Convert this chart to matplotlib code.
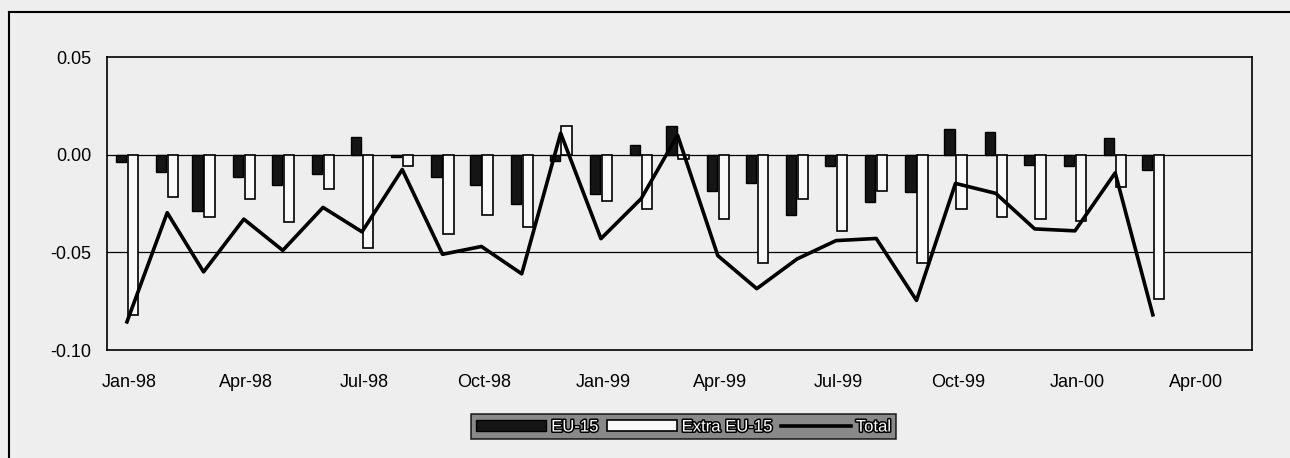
"""EU-15 / Extra EU-15 bars with total line, monthly Jan-98 to Mar-00."""

import matplotlib

matplotlib.use("Agg")
import matplotlib.dates as mdates
import matplotlib.patheffects as path_effects
import matplotlib.pyplot as plt
import numpy as np
import pandas as pd
from matplotlib.lines import Line2D

MONTHS = pd.date_range("1998-01-01", periods=27, freq="MS")
EU_15 = [
    -0.0037, -0.0088, -0.0290, -0.0115, -0.0153, -0.0098, 0.0090, -0.0010,
    -0.0114, -0.0156, -0.0250, -0.0034, -0.0203, 0.0050, 0.0147, -0.0186,
    -0.0147, -0.0308, -0.0056, -0.0242, -0.0190, 0.0132, 0.0115, -0.0051,
    -0.0059, 0.0085, -0.0076,
]
EXTRA_EU_15 = [
    -0.0820, -0.0215, -0.0317, -0.0225, -0.0344, -0.0178, -0.0480, -0.0060,
    -0.0407, -0.0310, -0.0368, 0.0147, -0.0237, -0.0280, -0.0020, -0.0330,
    -0.0554, -0.0229, -0.0390, -0.0186, -0.0554, -0.0280, -0.0319, -0.0330,
    -0.0339, -0.0166, -0.0740,
]
TOTAL = [
    -0.0856, -0.0297, -0.0600, -0.0330, -0.0490, -0.0270, -0.0395, -0.0076,
    -0.0510, -0.0470, -0.0610, 0.0110, -0.0430, -0.0225, 0.0100, -0.0517,
    -0.0686, -0.0534, -0.0440, -0.0429, -0.0746, -0.0147, -0.0198, -0.0380,
    -0.0390, -0.0093, -0.0820,
]
TICK_DATES = pd.date_range("1998-01-01", "2000-04-01", freq="QS")
Y_TICKS = [-0.10, -0.05, 0.00, 0.05]

BACKGROUND = "#eeeeee"
FONT = ["Liberation Sans", "DejaVu Sans"]

plt.rcParams["font.family"] = FONT

figure = plt.figure(figsize=(12.9, 4.58), dpi=100, facecolor=BACKGROUND)
axis = figure.add_axes([0.0829, 0.2358, 0.8876, 0.6397])
axis.set_facecolor(BACKGROUND)

x_dates = mdates.date2num(MONTHS)
eu_bars = axis.bar(
    x_dates - 4.6, EU_15, width=8.0, color="#151515",
    edgecolor="black", linewidth=1.0, label="EU-15", zorder=3,
)
extra_bars = axis.bar(
    x_dates + 4.6, EXTRA_EU_15, width=8.0, color="#f9f9f9",
    edgecolor="black", linewidth=1.2, label="Extra EU-15", zorder=3,
)
(total_line,) = axis.plot(
    x_dates, TOTAL, color="black", linewidth=2.6, label="Total", zorder=4
)

for level in Y_TICKS[1:-1]:
    axis.axhline(level, color="black", linewidth=0.9, zorder=1)

start = mdates.date2num(pd.Timestamp("1998-01-01"))
axis.set_xlim(start - 15.4, start + 866.3)
axis.set_ylim(-0.10, 0.05)
axis.set_yticks(Y_TICKS)
axis.yaxis.set_major_formatter(matplotlib.ticker.FormatStrFormatter("%.2f"))
axis.set_xticks(mdates.date2num(TICK_DATES) + 2)
axis.xaxis.set_major_formatter(mdates.DateFormatter("%b-%y"))
axis.tick_params(axis="both", length=0, labelsize=13, colors="black")
axis.tick_params(axis="x", pad=17)
axis.tick_params(axis="y", pad=11)
for spine in axis.spines.values():
    spine.set_color("black")
    spine.set_linewidth(1.2)

# outer chart frame (top and left edges visible in the scan)
figure.add_artist(Line2D([0.007, 1.0], [0.974, 0.974], color="black", linewidth=1.5))
figure.add_artist(Line2D([0.007, 0.007], [0.0, 0.974], color="black", linewidth=1.5))

legend = figure.legend(
    handles=[eu_bars, extra_bars, total_line],
    labels=["EU-15", "Extra EU-15", "Total"],
    loc="center",
    bbox_to_anchor=(0.530, 0.0677),
    ncol=3,
    fontsize=12,
    frameon=True,
    fancybox=False,
    handlelength=4.2,
    handletextpad=0.3,
    columnspacing=0.5,
    borderpad=0.3,
)
legend.get_frame().set_facecolor("#707070")
legend.get_frame().set_edgecolor("black")
legend.get_frame().set_linewidth(1.2)
for text in legend.get_texts():
    text.set_color("white")
    text.set_path_effects([path_effects.withStroke(linewidth=2.2, foreground="black")])

figure.savefig("out.png", dpi=100, facecolor=BACKGROUND)
